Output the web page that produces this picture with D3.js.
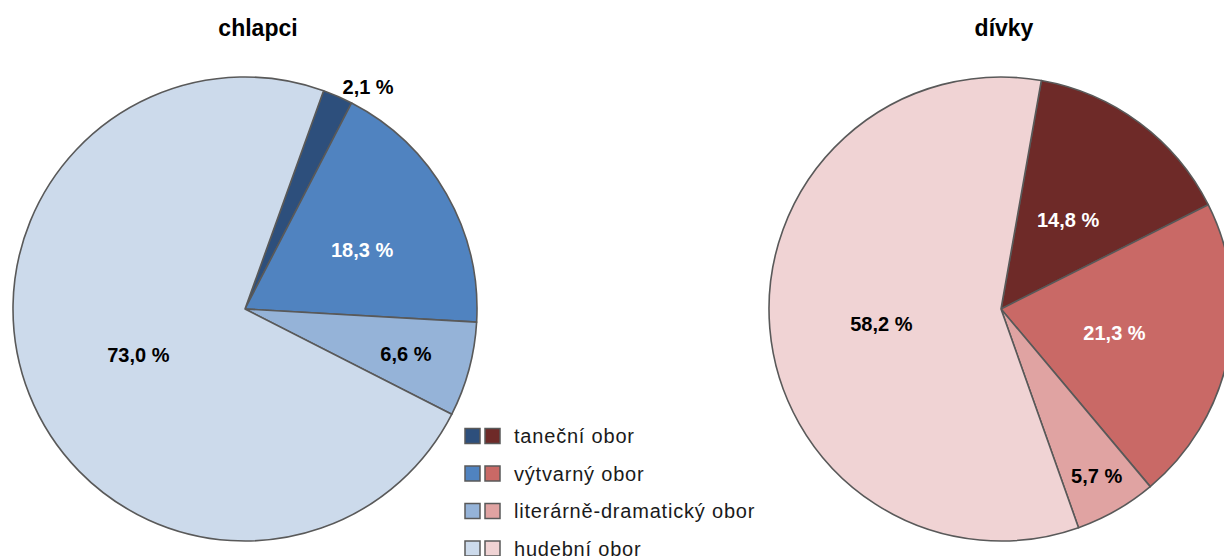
<!DOCTYPE html>
<meta charset="utf-8">
<script src="https://d3js.org/d3.v7.min.js"></script>
<style>
  body { margin: 0; background: #fff; }
  text { font-family: "Liberation Sans", Arial, sans-serif; }
</style>
<body>
<div id="chart"></div>
<script>
// data
var categories = ["taneční obor", "výtvarný obor", "literárně-dramatický obor", "hudební obor"];
var boysValues = [2.1, 18.3, 6.6, 73.0];
var girlsValues = [14.8, 21.3, 5.7, 58.2];
var titles = ["chlapci", "dívky"];

// colours per category
var boysColors = ["#2d4f7c", "#5083c0", "#95b3d8", "#ccdaeb"];
var girlsColors = ["#6e2a28", "#c96966", "#e0a3a2", "#f0d3d4"];

var width = 1224, height = 556;
var svg = d3.select("#chart").append("svg")
    .attr("width", width)
    .attr("height", height);

var radius = 232;

// pie settings: centre, start angle (deg), label distance (fraction of radius),
// label angle shift (deg), label colour
var pies = [
  { values: boysValues, colors: boysColors, cx: 245, cy: 309, start: 19.8,
    labelDist: [1.095, 0.565, 0.72, 0.5], labelShift: [5.4, 3, 0.5, -1.5],
    labelFill: ["#000", "#fff", "#000", "#000"], titleX: 258 },
  { values: girlsValues, colors: girlsColors, cx: 1001, cy: 309, start: 10,
    labelDist: [0.48, 0.5, 0.83, 0.52], labelShift: [0.4, 0.3, 0, -2.3],
    labelFill: ["#fff", "#fff", "#000", "#000"], titleX: 1004 }
];

function fmt(v) { return d3.format(".1f")(v).replace(".", ",") + " %"; }

pies.forEach(function(p, pi) {
  var a0 = p.start * Math.PI / 180;
  var pie = d3.pie().sort(null).startAngle(a0).endAngle(a0 + 2 * Math.PI);
  var arcs = pie(p.values);
  var arc = d3.arc().innerRadius(0).outerRadius(radius);

  var g = svg.append("g").attr("transform", "translate(" + p.cx + "," + p.cy + ")");

  g.selectAll("path")
    .data(arcs)
    .enter()
    .append("path")
      .attr("d", arc)
      .attr("fill", function(d, i) { return p.colors[i]; })
      .attr("stroke", "#595959")
      .attr("stroke-width", 1.6)
      .attr("stroke-linejoin", "round");

  g.selectAll("text.lbl")
    .data(arcs)
    .enter()
    .append("text")
      .attr("class", "lbl")
      .attr("transform", function(d, i) {
        var r = radius * p.labelDist[i];
        var mid = (d.startAngle + d.endAngle) / 2 + p.labelShift[i] * Math.PI / 180;
        return "translate(" + (r * Math.sin(mid)) + "," + (-r * Math.cos(mid)) + ")";
      })
      .attr("text-anchor", "middle")
      .attr("dy", "0.35em")
      .style("font-size", "20px")
      .style("font-weight", "bold")
      .attr("fill", function(d, i) { return p.labelFill[i]; })
      .text(function(d) { return fmt(d.data); });

  // title
  svg.append("text")
    .attr("x", p.titleX)
    .attr("y", 36)
    .attr("text-anchor", "middle")
    .style("font-size", "23px")
    .style("font-weight", "bold")
    .text(titles[pi]);
});

// legend
var legend = svg.append("g").attr("transform", "translate(465,436)");
var rows = legend.selectAll("g")
  .data(categories)
  .enter()
  .append("g")
    .attr("transform", function(d, i) { return "translate(0," + (i * 37.5) + ")"; });

rows.append("rect")
  .attr("x", 0).attr("y", -7.5).attr("width", 15).attr("height", 15)
  .attr("fill", function(d, i) { return boysColors[i]; })
  .attr("stroke", "#595959").attr("stroke-width", 1.5);
rows.append("rect")
  .attr("x", 20).attr("y", -7.5).attr("width", 15).attr("height", 15)
  .attr("fill", function(d, i) { return girlsColors[i]; })
  .attr("stroke", "#595959").attr("stroke-width", 1.5);
rows.append("text")
  .attr("x", 49)
  .attr("dy", "0.35em")
  .style("font-size", "20px")
  .style("letter-spacing", "0.8px")
  .attr("fill", "#1a1a1a")
  .text(function(d) { return d; });
</script>
</body>
